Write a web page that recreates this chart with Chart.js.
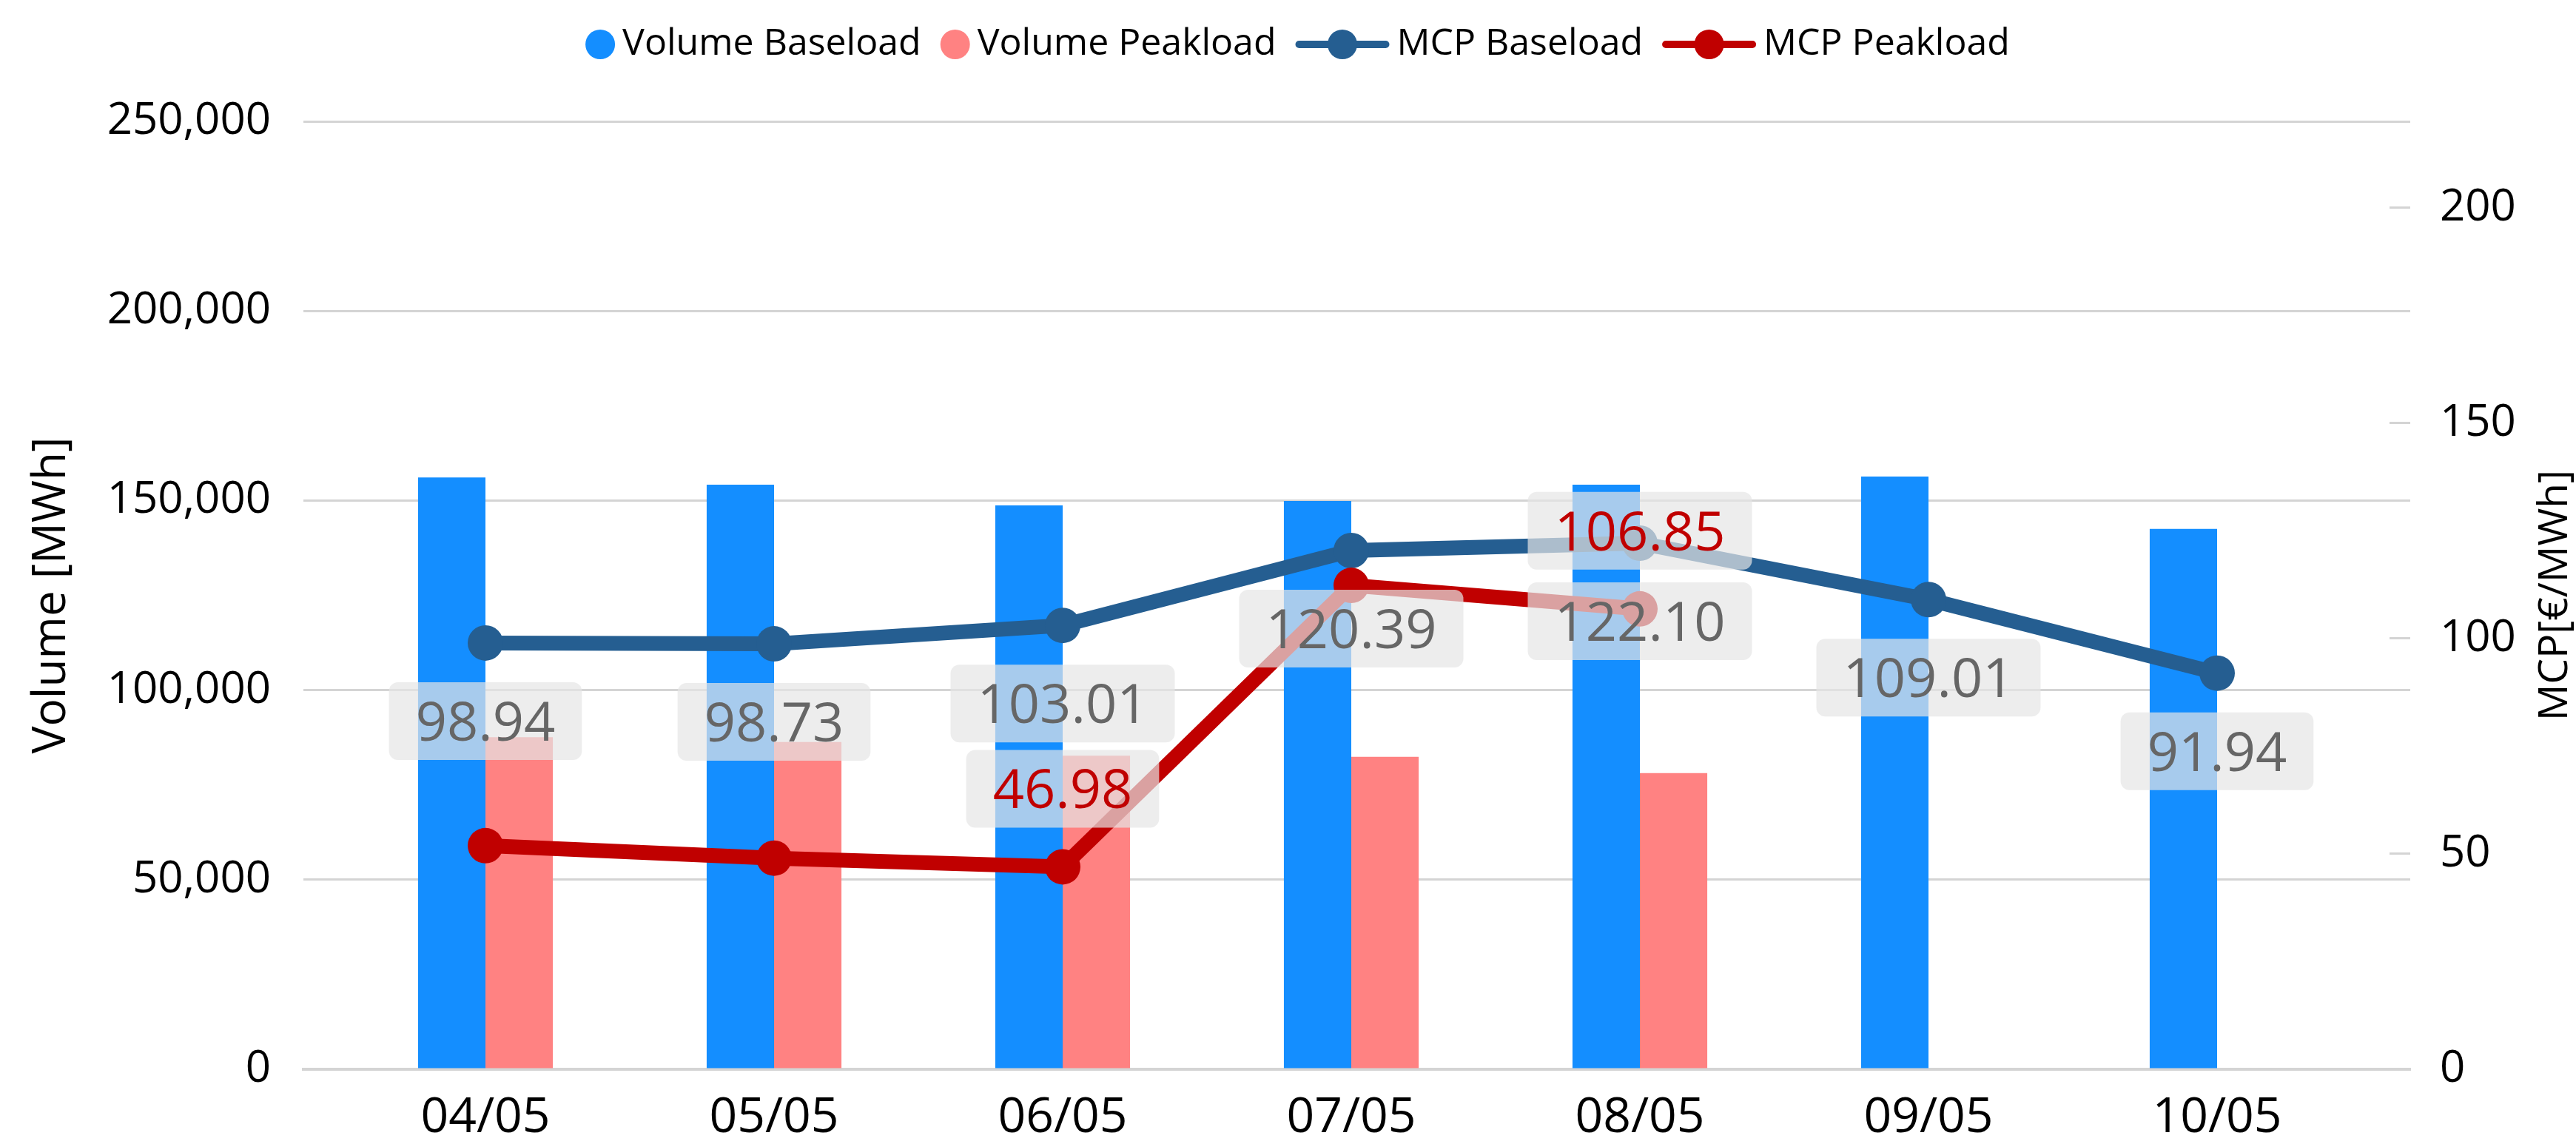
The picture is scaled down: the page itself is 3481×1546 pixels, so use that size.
<!DOCTYPE html>
<html>
<head>
<meta charset="utf-8">
<script src="https://cdn.jsdelivr.net/npm/chart.js@4.4.1/dist/chart.umd.min.js"></script>
<style>
  html, body { margin: 0; padding: 0; background: #fff; }
</style>
</head>
<body>
<canvas id="mcpChart" width="3481" height="1546"></canvas>
<script>
// ===== DATA =====
const days = ['04/05', '05/05', '06/05', '07/05', '08/05', '09/05', '10/05'];
const volumeBase = [156100, 154200, 148700, 149900, 154200, 156300, 142500];
const volumePeak = [87600, 86300, 82700, 82400, 78100, null, null];
const mcpBase = [98.94, 98.73, 103.01, 120.39, 122.10, 109.01, 91.94];
const mcpPeak = [51.9, 49.0, 46.98, 112.3, 106.85, null, null];
const peakLabelShown = [false, false, true, false, true, false, false];
const volumeTicks = [0, 50000, 100000, 150000, 200000, 250000];
const mcpTicks = [0, 50, 100, 150, 200];

const C = {
  volBase: '#148eff',
  volPeak: '#ff8282',
  mcpBase: '#255e91',
  mcpPeak: '#c00000',
  grid: '#d4d4d4',
  box: 'rgba(230,230,230,0.7)'
};
const FONT = '"Open Sans", "Noto Sans", sans-serif';

// Excel-like margin between the gridline ends and the first/last category
const xInset = {
  id: 'xInset',
  afterLayout(chart) {
    const x = chart.scales.x, a = chart.chartArea;
    x._startPixel = a.left + 51;
    x._endPixel = a.right - 66;
    x._length = x._endPixel - x._startPixel;
  }
};

// value labels in grey rounded boxes
const valueBoxes = {
  id: 'valueBoxes',
  afterDatasetsDraw(chart) {
    const ctx = chart.ctx, size = 74;
    ctx.save();
    ctx.font = size + 'px ' + FONT;
    const drawBox = (pt, text, color, dir) => {
      const w = ctx.measureText(text).width + 72, h = 105;
      const cy = pt.y + dir * (53 + h / 2);
      ctx.fillStyle = C.box;
      ctx.beginPath();
      ctx.roundRect(pt.x - w / 2, cy - h / 2, w, h, 12);
      ctx.fill();
      ctx.fillStyle = color;
      ctx.textAlign = 'center';
      ctx.textBaseline = 'alphabetic';
      ctx.fillText(text, pt.x, cy + size * 0.357);
    };
    const baseMeta = chart.getDatasetMeta(2), peakMeta = chart.getDatasetMeta(3);
    mcpBase.forEach((v, i) => drawBox(baseMeta.data[i], v.toFixed(2), '#666', 1));
    mcpPeak.forEach((v, i) => {
      if (peakLabelShown[i] && v !== null) drawBox(peakMeta.data[i], v.toFixed(2), C.mcpPeak, -1);
    });
    ctx.restore();
  }
};

// legend (circle for bars, line+circle for lines) and right axis title
const topLegend = {
  id: 'topLegend',
  afterDraw(chart) {
    const ctx = chart.ctx, y = 60;
    ctx.save();
    ctx.font = '50px ' + FONT;
    ctx.textBaseline = 'middle';
    const items = chart.data.datasets.map(ds => ({
      text: ds.label,
      line: ds.type === 'line',
      color: ds.type === 'line' ? ds.borderColor : ds.backgroundColor
    }));
    const markW = it => it.line ? 127 : 40;
    let total = 0;
    items.forEach((it, i) => { total += markW(it) + 10 + ctx.measureText(it.text).width + (i ? 26 : 0); });
    let x = chart.width / 2 - total / 2 + 13;
    items.forEach(it => {
      const mw = markW(it);
      ctx.fillStyle = it.color;
      ctx.strokeStyle = it.color;
      if (it.line) {
        ctx.lineWidth = 10;
        ctx.lineCap = 'round';
        ctx.beginPath();
        ctx.moveTo(x + 5, y);
        ctx.lineTo(x + mw - 5, y);
        ctx.stroke();
      }
      ctx.beginPath();
      ctx.arc(x + mw / 2, y, 20, 0, Math.PI * 2);
      ctx.fill();
      x += mw + 10;
      ctx.fillStyle = '#000';
      ctx.textAlign = 'left';
      ctx.fillText(it.text, x, y);
      x += ctx.measureText(it.text).width + 26;
    });

    const a = chart.chartArea;
    ctx.translate(chart.width - 28, (a.top + a.bottom) / 2);
    ctx.rotate(-Math.PI / 2);
    ctx.font = '55px ' + FONT;
    ctx.textAlign = 'center';
    ctx.fillText('MCP[€/MWh]', 0, 0);
    ctx.restore();
  }
};

function draw() {
  new Chart(document.getElementById('mcpChart'), {
    data: {
      labels: days,
      datasets: [
        { type: 'bar', label: 'Volume Baseload', data: volumeBase, backgroundColor: C.volBase,
          yAxisID: 'y', order: 3, barPercentage: 1, categoryPercentage: 0.467 },
        { type: 'bar', label: 'Volume Peakload', data: volumePeak, backgroundColor: C.volPeak,
          yAxisID: 'y', order: 3, barPercentage: 1, categoryPercentage: 0.467 },
        { type: 'line', label: 'MCP Baseload', data: mcpBase, borderColor: C.mcpBase, backgroundColor: C.mcpBase,
          borderWidth: 20, pointRadius: 24, pointHoverRadius: 24, pointBorderWidth: 0, tension: 0,
          yAxisID: 'y1', order: 2 },
        { type: 'line', label: 'MCP Peakload', data: mcpPeak, borderColor: C.mcpPeak, backgroundColor: C.mcpPeak,
          borderWidth: 20, pointRadius: 24, pointHoverRadius: 24, pointBorderWidth: 0, tension: 0,
          yAxisID: 'y1', order: 1 }
      ]
    },
    options: {
      responsive: false,
      devicePixelRatio: 1,
      animation: false,
      font: { family: FONT },
      layout: { padding: { top: 164, right: 0, bottom: 0, left: 0 } },
      plugins: {
        legend: { display: false },
        tooltip: { enabled: false }
      },
      scales: {
        x: {
          offset: true,
          afterFit: s => { s.height = 101; },
          grid: { display: false, drawTicks: false },
          border: { display: true, color: C.grid, width: 4 },
          ticks: { font: { size: 66 }, color: '#000', padding: 27, maxRotation: 0, autoSkip: false }
        },
        y: {
          position: 'left',
          min: 0,
          max: 250000,
          afterFit: s => { s.width = 410; },
          afterBuildTicks: s => { s.ticks = volumeTicks.map(value => ({ value })); },
          grid: { color: C.grid, lineWidth: 3, drawTicks: false },
          border: { display: false },
          ticks: { font: { size: 60, lineHeight: 1 }, color: '#000', padding: 44 },
          title: { display: true, text: 'Volume [MWh]', font: { size: 62 }, color: '#000',
                   padding: { top: 33, bottom: 0 } }
        },
        y1: {
          position: 'right',
          min: 0,
          max: 220,
          afterFit: s => { s.width = 224; },
          afterBuildTicks: s => { s.ticks = mcpTicks.map(value => ({ value })); },
          grid: { drawOnChartArea: false, color: C.grid, lineWidth: 3, tickLength: -28 },
          border: { display: false },
          ticks: { font: { size: 60, lineHeight: 1 }, color: '#000', padding: 68 }
        }
      }
    },
    plugins: [xInset, valueBoxes, topLegend]
  });
}

document.fonts.load('50px "Open Sans"').then(draw, draw);
</script>
</body>
</html>
